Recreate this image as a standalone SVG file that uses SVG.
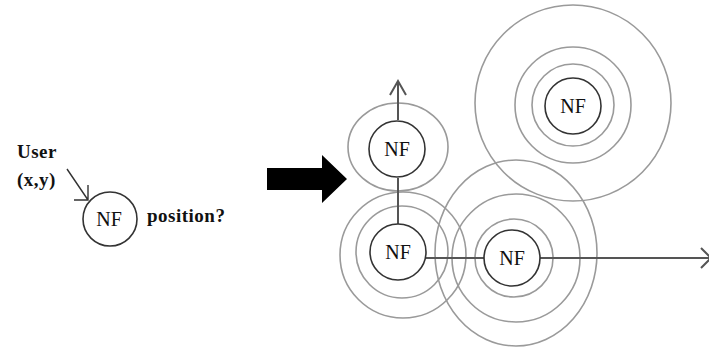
<svg xmlns="http://www.w3.org/2000/svg" width="709" height="351" viewBox="0 0 709 351">
  <style>
    .ring { fill: none; stroke: #9a9a9a; stroke-width: 1.6; }
    .nf { fill: #ffffff; stroke: #333333; stroke-width: 1.6; }
    .nf-label { font-family: "Liberation Serif", "DejaVu Serif", serif; font-size: 20px; fill: #111111; text-anchor: middle; }
    .caption { font-family: "Liberation Serif", "DejaVu Serif", serif; font-size: 19px; font-weight: bold; fill: #111111; letter-spacing: 0.5px; }
    .link { fill: none; stroke: #555555; stroke-width: 2; }
    .thin { fill: none; stroke: #333333; stroke-width: 1.4; }
  </style>
  <rect width="709" height="351" fill="#ffffff"/>

  <!-- user query on the left -->
  <g id="user">
    <text class="caption" x="17" y="158">User</text>
    <text class="caption" x="17" y="186">(x,y)</text>
    <path class="thin" d="M67,169 L88,200 M74,200 L88,200 L88,185"/>
  </g>
  <g id="nf-query">
    <circle class="nf" cx="110" cy="219" r="27"/>
    <text class="nf-label" x="109" y="226">NF</text>
    <text class="caption" x="147" y="222">position?</text>
  </g>

  <!-- transition arrow -->
  <polygon id="step-arrow" points="267,168 322,168 322,155 347,179 322,203 322,190 267,190" fill="#000000"/>

  <!-- range rings -->
  <g id="nf-top">
    <ellipse class="ring" cx="398" cy="147" rx="50" ry="44"/>
  </g>
  <g id="nf-topright">
    <circle class="ring" cx="573" cy="103" r="98"/>
    <circle class="ring" cx="573" cy="105" r="58"/>
    <circle class="ring" cx="573" cy="105" r="41"/>
  </g>
  <g id="nf-left">
    <circle class="ring" cx="403" cy="255" r="63"/>
    <circle class="ring" cx="402" cy="252" r="46"/>
  </g>
  <g id="nf-right">
    <ellipse class="ring" cx="516" cy="253" rx="81" ry="93"/>
    <circle class="ring" cx="516" cy="258" r="64"/>
    <circle class="ring" cx="514" cy="258" r="39"/>
  </g>

  <!-- connectors -->
  <g id="connectors">
    <path class="link" d="M398,120 L398,81 M390,95 L398,81 L406,95"/>
    <path class="link" d="M398,178 L398,224"/>
    <path class="link" d="M426,258 L485,258"/>
    <path class="link" d="M540,258 L711,258 M701,248 L711,258 L701,268"/>
  </g>

  <!-- node circles -->
  <g id="nf-top-node">
    <circle class="nf" cx="397" cy="149" r="28"/>
    <text class="nf-label" x="397" y="156">NF</text>
  </g>
  <g id="nf-topright-node">
    <circle class="nf" cx="573" cy="106" r="28"/>
    <text class="nf-label" x="573" y="113">NF</text>
  </g>
  <g id="nf-left-node">
    <circle class="nf" cx="398" cy="252" r="28"/>
    <text class="nf-label" x="398" y="259">NF</text>
  </g>
  <g id="nf-right-node">
    <circle class="nf" cx="512" cy="258" r="28"/>
    <text class="nf-label" x="512" y="265">NF</text>
  </g>
</svg>
